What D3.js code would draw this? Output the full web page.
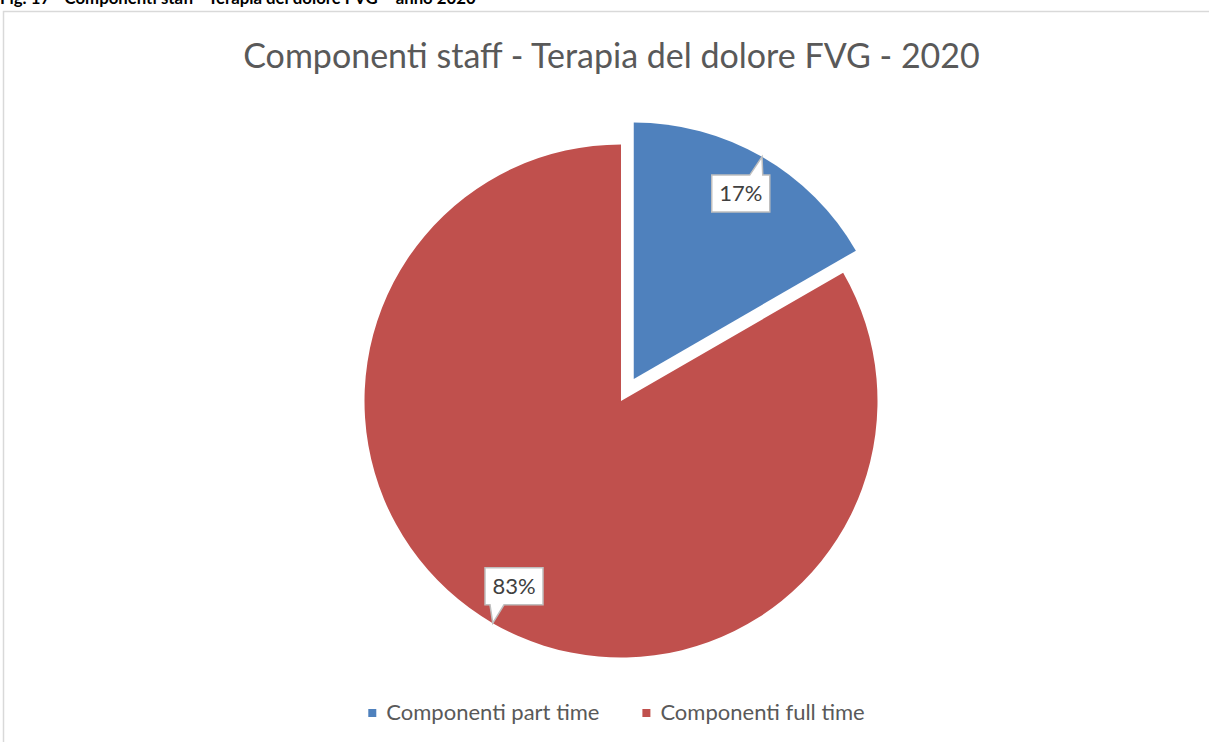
<!DOCTYPE html>
<html>
<head>
<meta charset="utf-8">
<script src="https://cdn.jsdelivr.net/npm/d3@7"></script>
<style>
  html, body { margin: 0; padding: 0; background: #fff; }
  svg { display: block; }
  text { font-family: Lato, "Open Sans", "Noto Sans", sans-serif; }
</style>
</head>
<body>
<svg id="chart" width="1209" height="742"></svg>
<script>
// ---- data ----
const categories = ["Componenti part time", "Componenti full time"];
const values = [5, 25];
const colors = ["#4f81bd", "#c0504d"];
const figCaption = "Fig. 17 - Componenti staff - Terapia del dolore FVG \u2013 anno 2020";
const chartTitle = "Componenti staff - Terapia del dolore FVG - 2020";
const explodedIndex = [0];

const W = 1209, H = 742;
const svg = d3.select("#chart");

// caption (cut at top, as in the source page)
svg.append("text")
  .attr("x", 0).attr("y", 4)
  .attr("font-size", 16.8).attr("font-weight", "bold").attr("fill", "#000")
  .text(figCaption);

// chart frame
svg.append("path")
  .attr("d", `M3.5,${H} L3.5,11.5 L${W},11.5`)
  .attr("fill", "none").attr("stroke", "#d9d9d9").attr("stroke-width", 1.5);

// title
svg.append("text")
  .attr("x", 611.5).attr("y", 68)
  .attr("text-anchor", "middle")
  .attr("font-size", 34).attr("fill", "#595959")
  .text(chartTitle);

// pie
const cx = 621, cy = 401, R = 256.5, explode = 25.5, labelR = 214;
const total = d3.sum(values);
const pie = d3.pie().sort(null).value(d => d)(values);
const arc = d3.arc().innerRadius(0).outerRadius(R);
const g = svg.append("g").attr("transform", `translate(${cx},${cy})`);

pie.forEach((p, i) => {
  const mid = (p.startAngle + p.endAngle) / 2;
  const off = explodedIndex.includes(i) ? explode : 0;
  p.ox = off * Math.sin(mid);
  p.oy = -off * Math.cos(mid);
  p.mid = mid;
});

g.selectAll("path.slice").data(pie).join("path")
  .attr("class", "slice")
  .attr("d", arc)
  .attr("transform", d => `translate(${d.ox},${d.oy})`)
  .attr("fill", (d, i) => colors[i]);

// callout labels
const bw = 58, bh = 37;
pie.forEach((p, i) => {
  const sx = Math.sin(p.mid), sy = -Math.cos(p.mid);
  const tip = [p.ox + R * sx, p.oy + R * sy];
  const c = [p.ox + labelR * sx, p.oy + labelR * sy];
  const L = c[0] - bw / 2, Rr = c[0] + bw / 2, T = c[1] - bh / 2, B = c[1] + bh / 2;
  const bc = Math.max(L + 12, Math.min(Rr - 12, tip[0]));
  let d;
  if (tip[1] < T) {
    d = `M${L},${T} L${bc - 8},${T} L${tip[0]},${tip[1]} L${bc + 5},${T} L${Rr},${T} L${Rr},${B} L${L},${B} Z`;
  } else {
    d = `M${L},${T} L${Rr},${T} L${Rr},${B} L${bc + 7},${B} L${tip[0]},${tip[1]} L${bc - 7},${B} L${L},${B} Z`;
  }
  g.append("path").attr("d", d)
    .attr("fill", "#fff").attr("stroke", "#bfbfbf").attr("stroke-width", 1.5)
    .attr("stroke-linejoin", "miter");
  g.append("text")
    .attr("x", c[0]).attr("y", c[1] + 7.5)
    .attr("text-anchor", "middle")
    .attr("font-size", 22).attr("fill", "#404040")
    .text(Math.round(values[i] / total * 100) + "%");
});

// legend
const legend = svg.append("g");
const items = [];
categories.forEach((c, i) => {
  const it = legend.append("g");
  it.append("rect").attr("x", 0).attr("y", -11).attr("width", 8).attr("height", 8).attr("fill", colors[i]);
  const t = it.append("text").attr("x", 18).attr("y", 0)
    .attr("font-size", 22).attr("fill", "#595959").text(c);
  const w = 18 + t.node().getComputedTextLength();
  items.push({ it, w });
});
const gap = 43;
const totalW = d3.sum(items, d => d.w) + gap * (items.length - 1);
let lx = 616.5 - totalW / 2;
items.forEach(d => {
  d.it.attr("transform", `translate(${lx},720)`);
  lx += d.w + gap;
});
</script>
</body>
</html>
